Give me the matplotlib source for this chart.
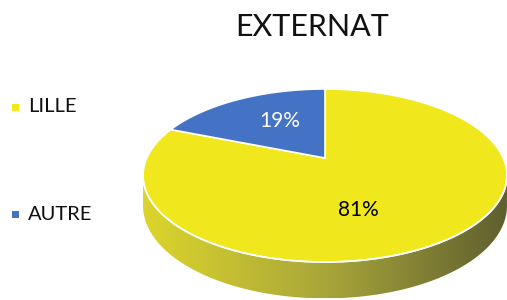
import numpy as np
import matplotlib.pyplot as plt
from matplotlib.patches import Polygon, Rectangle
from matplotlib.colors import LinearSegmentedColormap

plt.rcParams['font.family'] = ['Lato', 'DejaVu Sans']

title = "EXTERNAT"
labels = ["LILLE", "AUTRE"]
values = [81, 19]
colors = ["#f0e81c", "#4472c4"]
label_colors = ["black", "white"]

# pie geometry in pixels (perspective projection of a disc)
cx, cy = 325, 158
k = 0.2023
a, b = 178.2, 82.96
depth = 29


def proj(u, v):
    w = 1 + k * v
    return cx + a * u / w, cy - b * v / w


fig = plt.figure(figsize=(5.07, 3.0), dpi=100)
ax = fig.add_axes([0, 0, 1, 1])
ax.set_xlim(0, 507)
ax.set_ylim(300, 0)
ax.axis('off')

# side wall (front half)
th = np.linspace(0, 2 * np.pi, 2000, endpoint=False)
X, Y = proj(np.cos(th), np.sin(th))
tl = th[np.argmin(X)]
tr = th[np.argmax(X)]
if tr < tl:
    tr += 2 * np.pi
arc = np.linspace(tl, tr, 400)
u, v = np.cos(arc), np.sin(arc)
xt, yt = proj(u, v)
yb = yt + depth / (1 + k * v)
side = np.column_stack([np.r_[xt, xt[::-1]], np.r_[yt, yb[::-1]]])
side_patch = Polygon(side, closed=True, facecolor='none', edgecolor='none')
ax.add_patch(side_patch)
cmap = LinearSegmentedColormap.from_list('side', ["#dcd52c", "#a9a63a", "#5f5f2f"])
grad = np.linspace(0, 1, 256)[None, :]
im = ax.imshow(grad, cmap=cmap, aspect='auto',
               extent=[xt.min(), xt.max(), yb.max(), yt.min()], zorder=1)
im.set_clip_path(side_patch)
ax.plot(xt, yt, color='white', lw=1.2, zorder=3)

# top face slices, clockwise from 12 o'clock
start = 90.0
fr = np.array(values) / sum(values)
for f, c in zip(fr, colors):
    end = start - f * 360
    t = np.radians(np.linspace(start, end, 300))
    px, py = proj(np.cos(t), np.sin(t))
    pts = np.column_stack([np.r_[cx, px], np.r_[cy, py]])
    ax.add_patch(Polygon(pts, closed=True, facecolor=c, edgecolor='white',
                         lw=1.2, zorder=2))
    start = end

# data labels
label_pos = [(358, 210), (280, 121)]
for val, (lx, ly), tc in zip(values, label_pos, label_colors):
    ax.text(lx, ly, f"{val}%", color=tc, fontsize=15, ha='center', va='center', zorder=4)

ax.text(312, 27, title, fontsize=22, ha='center', va='center', color='#111111')

# legend
leg_y = [107, 214]
for lab, c, ly in zip(labels, colors, leg_y):
    ax.add_patch(Rectangle((12, ly - 3.5), 7, 7, facecolor=c, edgecolor='none'))
    ax.text(28, ly, lab, fontsize=14.5, ha='left', va='center', color='#111111')

fig.savefig("out.png", dpi=100)
